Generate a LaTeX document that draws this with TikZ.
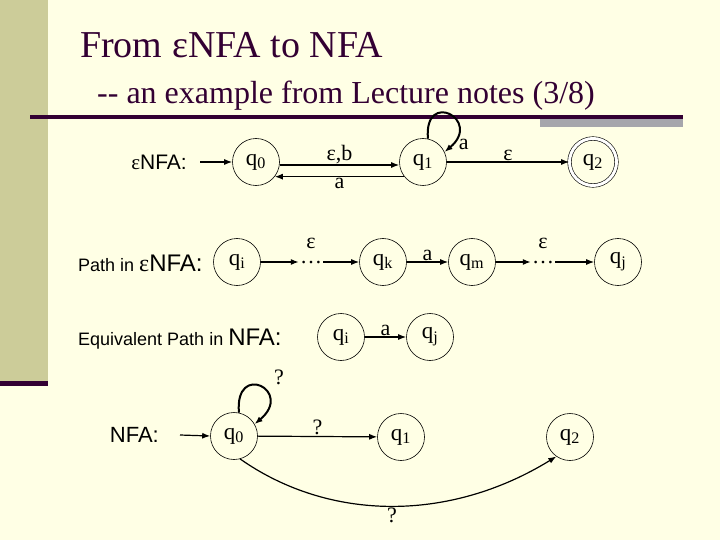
\documentclass[tikz,border=0pt]{standalone}
\usepackage{fontspec}
\setmainfont{Liberation Serif}
\setsansfont{Liberation Sans}
\usetikzlibrary{arrows.meta,positioning}
\definecolor{slidebg}{RGB}{255,255,229}
\definecolor{slidebar}{RGB}{204,204,153}
\definecolor{slideline}{RGB}{51,0,51}
\definecolor{slidegray}{RGB}{166,166,172}
\newcommand{\fsz}[1]{\fontsize{#1}{#1}\selectfont}
\begin{document}
\begin{tikzpicture}[x=1pt, y=1pt,
  state/.style={circle, draw, line width=0.6pt, minimum size=47pt, inner sep=0pt, font=\fsz{23}},
  accept/.style={state, double, double distance=3pt},
  trans/.style={-{Latex[length=8pt,width=6pt]}, line width=1.2pt},
  loopy/.style={trans, line width=2pt},
  elabel/.style={font=\fsz{22}, inner sep=1pt},
  dots/.style={font=\fsz{22}, inner sep=1pt, text height=3pt, text depth=0pt},
  sflabel/.style={font=\sffamily\fsz{24}, inner sep=0pt}]

% slide background
\fill[slidebg] (0,0) rectangle (720,-540);
\useasboundingbox (0,0) rectangle (720,-540);
\fill[slidebar] (0,0) rectangle (48,-383);
\fill[slideline] (0,-381) rectangle (48,-386);
\fill[slidegray] (540,-118) rectangle (683,-127);
\draw[slideline, line width=3.5pt] (30,-117) -- (683,-117);

\node[anchor=base west, font=\fsz{38}, inner sep=0pt, text=slideline] (title) at (80,-58) {From εNFA to NFA};
\node[anchor=base west, font=\fsz{32}, inner sep=0pt, text=slideline] (subtitle) at (97,-104) {-{}- an example from Lecture notes (3/8)};

% eNFA
\node[sflabel, anchor=east, font=\sffamily\fsz{21}] (lenfa) at (187,-162) {{\rmfamily ε}NFA:};
\node[state] (a0) at (256,-162) {q\textsubscript{0}};
\node[state] (a1) at (423,-162) {q\textsubscript{1}};
\node[accept] (a2) at (593,-162) {q\textsubscript{2}};
\draw[trans] (lenfa.east) ++(13,0) -- (a0.west);
\draw[trans] (a0.east |- 0,-165) -- node[elabel, above] {ε,b} (a1.west |- 0,-165);
\draw[trans] (a1.-142) -- node[elabel, below] {a} (a0.-38);
\draw[loopy] (a1.78) .. controls +(95:50) and +(40:50) .. node[elabel, pos=0.92, anchor=west, xshift=5pt] {a} (a1.25);
\draw[trans] (a1.east) -- node[elabel, above] {ε} (a2.west);

% path in eNFA
\node[sflabel, anchor=west] (lpath) at (78,-263) {\fsz{18}Path in {\fsz{24}{\rmfamily ε}NFA:}};
\node[state] (pi) at (237,-262) {q\textsubscript{i}};
\node[dots] (d1) at (311,-262) {…};
\node[state] (pk) at (383,-262) {q\textsubscript{k}};
\node[state] (pm) at (472,-262) {q\textsubscript{m}};
\node[dots] (d2) at (543,-262) {…};
\node[state] (pj) at (618,-262) {q\textsubscript{j}};
\node[elabel, above=9pt of d1] {ε};
\node[elabel, above=9pt of d2] {ε};
\draw[trans] (pi) -- (d1);
\draw[trans] (d1) -- (pk);
\draw[trans] (pk) -- node[elabel, above] {a} (pm);
\draw[trans] (pm) -- (d2);
\draw[trans] (d2) -- (pj);

% equivalent path in NFA
\node[sflabel, anchor=west] (lequiv) at (78,-339) {\fsz{18}Equivalent Path in {\fsz{24}NFA:}};
\node[state] (ei) at (341,-337) {q\textsubscript{i}};
\node[state] (ej) at (430,-337) {q\textsubscript{j}};
\draw[trans] (ei) -- node[elabel, above] {a} (ej);

% NFA
\node[sflabel, anchor=east, font=\sffamily\fsz{22}] (lnfa) at (159,-435) {NFA:};
\node[state] (b0) at (234,-436) {q\textsubscript{0}};
\node[state] (b1) at (401,-437) {q\textsubscript{1}};
\node[state] (b2) at (570,-437) {q\textsubscript{2}};
\draw[trans] (lnfa.east) ++(21,0) -- (b0.west);
\draw[loopy] (b0.78) .. controls +(95:52) and +(40:52) .. node[elabel, pos=0.5, anchor=south west, xshift=12pt] {?} (b0.30);
\draw[trans] (b0) -- node[elabel, above] {?} (b1);
\draw[trans] (b0.285) .. controls (330,-522) and (450,-522) .. node[elabel, below] {?} (b2.235);

\end{tikzpicture}
\end{document}
